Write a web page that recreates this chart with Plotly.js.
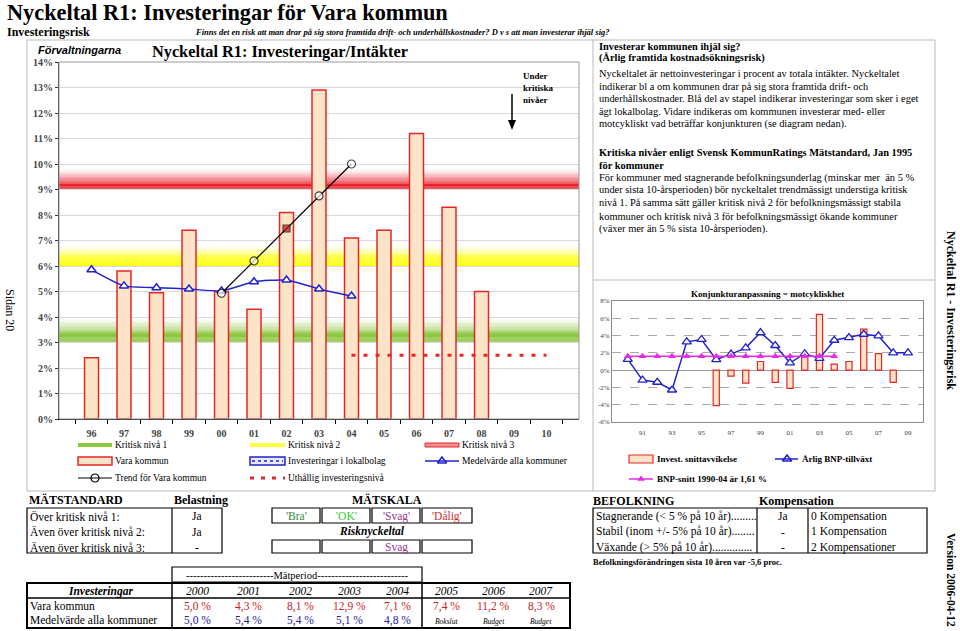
<!DOCTYPE html>
<html><head><meta charset="utf-8">
<script src="https://cdn.plot.ly/plotly-3.0.1.min.js"></script>
<style>html,body{margin:0;padding:0;background:#fff}#c{width:960px;height:631px}</style>
</head><body><div id="c"></div>
<script>
// ---------- DATA ----------
const years = ['96','97','98','99','00','01','02','03','04','05','06','07','08','09','10'];
const varaYears = ['96','97','98','99','00','01','02','03','04','05','06','07','08'];
const varaKommun = [2.4,5.8,4.95,7.4,5.0,4.3,8.1,12.9,7.1,7.4,11.2,8.3,5.0];
const medelYears = ['96','97','98','99','00','01','02','03','04'];
const medelvarde = [5.85,5.22,5.15,5.1,5.02,5.38,5.45,5.1,4.82];
const trendYears = ['00','01','02','03','04'];
const trendValues = [4.93,6.2,7.47,8.75,10.0];
const uthalligYears = ['04','05','06','07','08','09','10'];
const uthalligValues = [2.5,2.5,2.5,2.5,2.5,2.5,2.5];
const kritiskNiva = [3,6,9];
const mainYTicks = [0,1,2,3,4,5,6,7,8,9,10,11,12,13,14];

const bnpYears = [1990,1991,1992,1993,1994,1995,1996,1997,1998,1999,2000,2001,2002,2003,2004,2005,2006,2007,2008,2009];
const bnpGrowth = [1.25,-1.15,-1.4,-2.3,3.27,3.55,1.22,1.85,2.58,4.35,2.85,0.85,1.9,1.35,3.46,3.77,4.15,3.96,2.0,2.0];
const snittYears = [1990,1991,1992,1993,1994,1995,1996,1997,1998,1999,2000,2001,2002,2003,2004];
const bnpSnitt = [1.61,1.61,1.61,1.61,1.61,1.61,1.61,1.61,1.61,1.61,1.61,1.61,1.61,1.61,1.61];
const investYears = [1996,1997,1998,1999,2000,2001,2002,2003,2004,2005,2006,2007,2008];
const investDev = [-4.1,-0.7,-1.5,1.0,-1.42,-2.1,1.6,6.45,0.7,1.0,4.75,1.9,-1.42];
const rightXTicks = [1991,1993,1995,1997,1999,2001,2003,2005,2007,2009];
const rightXLabels = ['91','93','95','97','99','01','03','05','07','09'];
const rightYTicks = [-6,-4,-2,0,2,4,6,8];

const tableYears = ['2000','2001','2002','2003','2004','2005','2006','2007'];
const tableVara = ['5,0 %','4,3 %','8,1 %','12,9 %','7,1 %','7,4 %','11,2 %','8,3 %'];
const tableMedel = ['5,0 %','5,4 %','5,4 %','5,1 %','4,8 %'];
const tableNotes = ['Bokslut','Budget','Budget'];
const matRows = ['Över kritisk nivå 1:','Även över kritisk nivå 2:','Även över kritisk nivå 3:'];
const belastning = ['Ja','Ja','-'];
const matskala = ["'Bra'","'OK'","'Svag'","'Dålig'"];
const riskValues = ['','','Svag',''];
const befRows = ['Stagnerande (< 5 % på 10 år).........','Stabil (inom +/- 5% på 10 år)........','Växande (> 5% på 10 år)..............'];
const befKomp = ['Ja','-','-'];
const befText = ['0 Kompensation','1 Kompensation','2 Kompensationer'];

const infoLines = [
 '<b>Investerar kommunen ihjäl sig?</b>',
 '<b>(Årlig framtida kostnadsökningsrisk)</b>',
 'Nyckeltalet är nettoinvesteringar i procent av totala intäkter. Nyckeltalet',
 'indikerar bl a om kommunen drar på sig stora framtida drift- och',
 'underhållskostnader. Blå del av stapel indikerar investeringar som sker i eget',
 'ägt lokalbolag. Vidare indikeras om kommunen investerar med- eller',
 'motcykliskt vad beträffar konjunkturen (se diagram nedan).',
 '<b>Kritiska nivåer enligt Svensk KommunRatings Mätstandard, Jan 1995</b>',
 '<b>för kommuner</b>',
 'För kommuner med stagnerande befolkningsunderlag (minskar mer  än 5 %',
 'under sista 10-årsperioden) bör nyckeltalet trendmässigt understiga kritisk',
 'nivå 1. På samma sätt gäller kritisk nivå 2 för befolkningsmässigt stabila',
 'kommuner och kritisk nivå 3 för befolkningsmässigt ökande kommuner',
 '(växer mer än 5 % sista 10-årsperioden).'
];
const infoY = [46,58,73,86,98,111,124,152,165,178,190,203,216,229];

// ---------- HELPERS ----------
const W=960,H=631;
const SERIF='Liberation Serif, Times New Roman, serif';
const SANS='Liberation Sans, Arial, sans-serif';
const px=x=>x/W, py=y=>1-y/H;
const ann=[];const shapes=[];
function T(text,x,y,size,o={}){ann.push({text:text,x:px(x),y:py(y),xref:'paper',yref:'paper',xanchor:o.anchor||'left',yanchor:'middle',showarrow:false,textangle:o.angle||0,font:{family:o.family||SERIF,size:size,color:o.color||'#000'},borderpad:0});}
function R(x0,y0,x1,y1,o={}){shapes.push({type:'rect',xref:'paper',yref:'paper',x0:px(x0),x1:px(x1),y0:py(y0),y1:py(y1),line:{color:o.color||'#000',width:o.width===undefined?1:o.width,dash:o.dash||'solid'},fillcolor:o.fill||'rgba(0,0,0,0)',layer:o.layer||'above'});}
function L(x0,y0,x1,y1,o={}){shapes.push({type:'line',xref:'paper',yref:'paper',x0:px(x0),x1:px(x1),y0:py(y0),y1:py(y1),line:{color:o.color||'#000',width:o.width||1,dash:o.dash||'solid'},layer:o.layer||'above'});}

// gradient bands for critical levels
const bandSpec=[{rgb:[140,198,63],fade:1.0,solid:0.3},{rgb:[255,255,0],fade:0.85,solid:0.3},{rgb:[232,32,42],fade:0.85,solid:0.22}];
kritiskNiva.forEach((lvl,i)=>{const s=bandSpec[i];const N=24;for(let k=0;k<N;k++){const t0=k/N,t1=(k+1)/N,tm=(t0+t1)/2;let a=tm<s.solid?1:Math.pow(1-(tm-s.solid)/(1-s.solid),1.6);
 shapes.push({type:'rect',xref:'x domain',yref:'y',x0:0,x1:1,y0:lvl+t0*s.fade,y1:lvl+t1*s.fade+0.002,line:{width:0},fillcolor:`rgba(${s.rgb[0]},${s.rgb[1]},${s.rgb[2]},${a.toFixed(3)})`,layer:'below'});}});

// main plot frame
R(59,62,579,419,{color:'#999',width:1});
// outer frames
R(27,40,935,491,{color:'#BBB',width:1,layer:'below'});
L(593,40,593,491,{color:'#BBB'});
L(593,280,935,280,{color:'#BBB'});

// ---------- TEXTS ----------
T('<b>Nyckeltal R1: Investeringar för Vara kommun</b>',6,13,22.3);
T('<b>Investeringsrisk</b>',6,32,12);
T('<b><i>Finns det en risk att man drar på sig stora framtida drift- och underhållskostnader? D v s att man investerar ihjäl sig?</i></b>',194,32,8.5);
T('<b><i>Förvaltningarna</i></b>',37,50,11,{family:SANS});
T('<b>Nyckeltal R1: Investeringar/Intäkter</b>',151,51,16.3);
T('<b>Under</b>',522,76,9);T('<b>kritiska</b>',522,88,9);T('<b>nivåer</b>',522,100,9);
L(512,94,512,122,{width:1.5});
shapes.push({type:'path',xref:'paper',yref:'paper',path:`M ${px(508)} ${py(120)} L ${px(516)} ${py(120)} L ${px(512)} ${py(130)} Z`,fillcolor:'#000',line:{width:0}});

infoLines.forEach((l,i)=>T(l,598,infoY[i],10.4));

T('Sidan 20',10,310,12,{angle:90,anchor:'center'});
T('<b>Nyckeltal R1 - Investeringsrisk</b>',951,310,12,{angle:90,anchor:'center'});
T('<b>Version 2006-04-12</b>',951,580,11.5,{angle:90,anchor:'center'});

// main legend
L(78,445,112,445,{color:'#8DC63F',width:4});T('Kritisk nivå 1',114,445,9.5);
L(250,445,285,445,{color:'#FFFF40',width:4});T('Kritisk nivå 2',287,445,9.5);
R(425,443,459,447,{color:'#E42828',width:1,fill:'#F59090'});T('Kritisk nivå 3',461,445,9.5);
R(78,457,112,465,{color:'#E42828',width:1.5,fill:'#FDE4C8'});T('Vara kommun',114,461,9.5);
R(250,457,285,465,{color:'#2222CC',width:1.5,fill:'#E8E8FF'});L(252,461,283,461,{color:'#2222CC',width:1.5,dash:'dot'});T('Investeringar i lokalbolag',287,461,9.5);
L(425,461,459,461,{color:'#2222CC',width:1.5});T('Medelvärde alla kommuner',461,461,9.5);
L(78,478,112,478,{color:'#000',width:1.2});T('Trend för Vara kommun',114,478,9.5);
L(250,478,285,478,{color:'#E42828',width:3,dash:'4px,7px'});T('Uthållig investeringsnivå',287,478,9.5);

// right chart texts
T('<b>Konjunkturanpassning = motcykliskhet</b>',767,294,9,{anchor:'center'});
R(629,455,653,463,{color:'#E42828',width:1.2,fill:'#FDE4C8'});T('<b>Invest. snittavvikelse</b>',656,459,9);
L(775,459,798,459,{color:'#2222CC',width:1.5});T('<b>Årlig BNP-tillväxt</b>',801,459,9);
L(629,479,653,479,{color:'#E62EE6',width:1.5});T('<b>BNP-snitt 1990-04 är 1,61 %</b>',656,479,9);

// ---------- TABLES ----------
const F=11.5;
T('<b>MÄTSTANDARD</b>',28,500,12);T('<b>Belastning</b>',201,500,12,{anchor:'center'});
T('<b>MÄTSKALA</b>',387,500,12,{anchor:'center'});
R(27,508,222,553,{width:1.2});L(172,508,172,553,{width:1.2});
matRows.forEach((r,i)=>{T(r,29,516+i*15.5,F);T(belastning[i],197,516+i*15.5,F,{anchor:'center'});});
const skalaX=[[272,320],[322,370],[372,420],[422,472]];
const skalaColors=['#2E8B40','#33CC33','#993399','#D03030'];
skalaX.forEach((b,i)=>{R(b[0],508,b[1],523,{width:1.2});T(matskala[i],(b[0]+b[1])/2,516,F,{anchor:'center',color:skalaColors[i]});
 R(b[0],540,b[1],553,{width:1.2});if(riskValues[i])T(riskValues[i],(b[0]+b[1])/2,547,F,{anchor:'center',color:skalaColors[i]});});
T('<b><i>Risknyckeltal</i></b>',372,531,F,{anchor:'center'});
R(172,567,422,582,{width:1.2});T('-------------------------Mätperiod--------------------------',297,575,10.5,{anchor:'center'});
R(27,583,570,628,{width:2});L(27,598,570,598,{width:1.5});L(172,583,172,628,{width:1.5});L(422,583,422,628,{width:1.5});
T('<b><i>Investeringar</i></b>',100,591,F,{anchor:'center'});
T('Vara kommun',29,606,F);T('Medelvärde alla kommuner',29,620,F);
const colX=[197,248,300,349,397,446,494,541];
tableYears.forEach((y,i)=>{T('<i>'+y+'</i>',colX[i],591,F,{anchor:'center'});T(tableVara[i],colX[i],606,F,{anchor:'center',color:'#CC2222'});
 if(i<tableMedel.length)T(tableMedel[i],colX[i],620,F,{anchor:'center',color:'#22229A'});else T('<i>'+tableNotes[i-tableMedel.length]+'</i>',colX[i],621,7.5,{anchor:'center'});});

T('<b>BEFOLKNING</b>',592,501,12);T('<b>Kompensation</b>',796,501,12,{anchor:'center'});
R(593,508,927,553,{width:1.2});L(757,508,757,553,{width:1.2});L(808,508,808,553,{width:1.2});
befRows.forEach((r,i)=>{T(r,595,516+i*15.5,F);T(befKomp[i],783,516+i*15.5,F,{anchor:'center'});T(befText[i],810,516+i*15.5,F);});
T('<b>Befolkningsförändringen sista 10 åren var -5,6 proc.</b>',592,562,8.5);

// ---------- TRACES ----------
const traces=[
 {type:'bar',x:varaYears,y:varaKommun,width:0.43,xaxis:'x',yaxis:'y',marker:{color:'#FDE4C8',line:{color:'#E42828',width:1.5}},hoverinfo:'skip'},
 {type:'scatter',mode:'lines',x:uthalligYears,y:uthalligValues,xaxis:'x',yaxis:'y',line:{color:'#E42828',width:3,dash:'4px,8px'},hoverinfo:'skip'},
 {type:'scatter',mode:'lines+markers',x:medelYears,y:medelvarde,xaxis:'x',yaxis:'y',line:{color:'#2222CC',width:1.5,shape:'spline',smoothing:0.5},marker:{symbol:'triangle-up',size:8,color:'#fff',line:{color:'#2222CC',width:1.5}},hoverinfo:'skip'},
 {type:'scatter',mode:'lines+markers',x:trendYears,y:trendValues,xaxis:'x',yaxis:'y',line:{color:'#000',width:1.2},marker:{symbol:['circle','circle','square','circle','circle'],size:[8,8,7,8,8],color:['#fff','#fff','#D01010','#fff','#fff'],line:{color:'#000',width:1.2}},hoverinfo:'skip'},
 // right chart
 {type:'bar',x:investYears,y:investDev,width:0.42,xaxis:'x2',yaxis:'y2',marker:{color:'#FDE4C8',line:{color:'#E42828',width:1.2}},hoverinfo:'skip'},
 {type:'scatter',mode:'lines+markers',x:bnpYears,y:bnpGrowth,xaxis:'x2',yaxis:'y2',line:{color:'#2222CC',width:1.5},marker:{symbol:'triangle-up',size:8,color:'#fff',line:{color:'#2222CC',width:1.3}},hoverinfo:'skip'},
 {type:'scatter',mode:'lines+markers',x:snittYears,y:bnpSnitt,xaxis:'x2',yaxis:'y2',line:{color:'#E62EE6',width:1.5},marker:{symbol:'triangle-up',size:7,color:'#E62EE6'},hoverinfo:'skip'},
 // legend markers on pixel canvas axis
 {type:'scatter',mode:'markers',x:[95],y:[478],xaxis:'x3',yaxis:'y3',marker:{symbol:'circle',size:8,color:'#fff',line:{color:'#000',width:1.2}},hoverinfo:'skip'},
 {type:'scatter',mode:'markers',x:[442,787],y:[461,459],xaxis:'x3',yaxis:'y3',marker:{symbol:'triangle-up',size:8,color:'#fff',line:{color:'#2222CC',width:1.5}},hoverinfo:'skip'},
 {type:'scatter',mode:'markers',x:[641],y:[479],xaxis:'x3',yaxis:'y3',marker:{symbol:'triangle-up',size:7,color:'#E62EE6'},hoverinfo:'skip'}
];

const layout={
 width:W,height:H,margin:{l:0,r:0,t:0,b:0},paper_bgcolor:'#fff',plot_bgcolor:'rgba(0,0,0,0)',showlegend:false,
 xaxis:{type:'category',categoryorder:'array',categoryarray:years,range:[-1,15],domain:[px(59),px(579)],anchor:'y',showline:true,linecolor:'#000',linewidth:1,ticks:'outside',tickson:'boundaries',ticklen:4,tickcolor:'#000',showgrid:false,zeroline:false,ticklabelstandoff:5,tickfont:{family:SERIF,size:10,weight:'bold'},fixedrange:true},
 yaxis:{range:[0,14],tickmode:'array',tickvals:mainYTicks,ticktext:mainYTicks.map(v=>v+'%'),domain:[py(419),py(62)],anchor:'x',showline:true,linecolor:'#333',ticks:'outside',ticklen:3,tickcolor:'#333',showgrid:true,gridcolor:'#DADADA',zeroline:false,tickfont:{family:SERIF,size:10,weight:'bold'},fixedrange:true},
 xaxis2:{range:[1988.93,2010.02],domain:[px(612),px(923)],anchor:'y2',tickmode:'array',tickvals:rightXTicks,ticktext:rightXLabels,showline:true,mirror:true,linecolor:'#888',showgrid:false,zeroline:false,ticks:'',ticklabelstandoff:4,tickfont:{family:SERIF,size:7},fixedrange:true},
 yaxis2:{range:[-6,8],tickmode:'array',tickvals:rightYTicks,ticktext:rightYTicks.map(v=>v+'%'),domain:[py(422),py(301)],anchor:'x2',showline:true,mirror:true,linecolor:'#888',showgrid:true,gridcolor:'#AAA',griddash:'dash',zeroline:true,zerolinecolor:'#999',zerolinewidth:1,ticks:'',tickfont:{family:SERIF,size:7},fixedrange:true},
 xaxis3:{range:[0,W],domain:[0,1],anchor:'y3',visible:false,fixedrange:true},
 yaxis3:{range:[H,0],domain:[0,1],anchor:'x3',visible:false,fixedrange:true},
 shapes:shapes,annotations:ann
};
Plotly.newPlot('c',traces,layout,{displayModeBar:false,staticPlot:true});
</script></body></html>
